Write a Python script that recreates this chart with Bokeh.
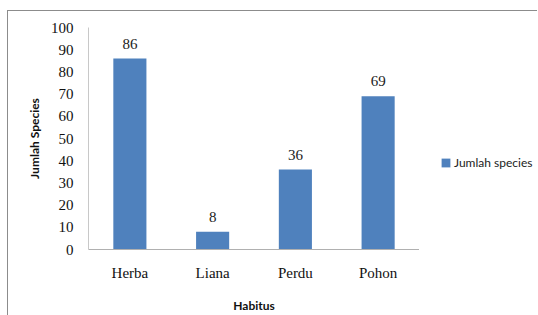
from bokeh.plotting import figure
from bokeh.layouts import row
from bokeh.models import ColumnDataSource, Legend, LegendItem, LabelSet
from bokeh.embed import file_html
from bokeh.resources import INLINE

categories = ["Herba", "Liana", "Perdu", "Pohon"]
counts = [86, 8, 36, 69]
y_ticks = [0, 10, 20, 30, 40, 50, 60, 70, 80, 90, 100]
series_name = "Jumlah species"
bar_color = "#4f81bd"

src = ColumnDataSource(dict(cat=categories, val=counts, lab=[str(v) for v in counts]))

p = figure(x_range=categories, y_range=(0, 100), width=411, height=304,
           output_backend="svg", toolbar_location=None,
           min_border_left=80, min_border_right=0, min_border_top=16, min_border_bottom=64)

p.vbar(x="cat", top="val", width=0.4, source=src, fill_color=bar_color, line_color=None)
labels = LabelSet(x="cat", y="val", text="lab", source=src, text_align="center",
                  text_baseline="bottom", y_offset=10, text_font="Liberation Serif",
                  text_font_size="15px", text_color="#222222")
p.add_layout(labels)

p.outline_line_color = None
p.xgrid.grid_line_color = None
p.ygrid.grid_line_color = None
p.x_range.range_padding = 0.0

p.yaxis.ticker = y_ticks
p.yaxis.axis_line_color = "#c8c8c8"
p.xaxis.axis_line_color = "#b0b0b0"
for ax in (p.xaxis, p.yaxis):
    ax.major_tick_line_color = None
    ax.minor_tick_line_color = None
    ax.major_label_text_font = "Liberation Serif"
    ax.major_label_text_font_size = "15px"
    ax.major_label_text_color = "#111111"
    ax.axis_label_text_font = "Lato"
    ax.axis_label_text_font_style = "bold"
    ax.axis_label_text_font_size = "12px"
    ax.axis_label_text_color = "#111111"
p.yaxis.major_label_standoff = 9
p.xaxis.major_label_standoff = 9
p.yaxis.axis_label = "Jumlah Species"
p.xaxis.axis_label = "Habitus"
p.yaxis.axis_label_standoff = 6
p.xaxis.axis_label_standoff = 14

# legend panel (the legend sits to the right of the plot area)
q = figure(x_range=(0, 1), y_range=(0, 1), width=118, height=304,
           output_backend="svg", toolbar_location=None,
           min_border_left=0, min_border_right=0, min_border_top=16, min_border_bottom=64)
q.axis.visible = False
q.grid.visible = False
q.outline_line_color = None
swatch = q.vbar(x=[5], top=[5], width=0.5, fill_color=bar_color, line_color=None)
legend = Legend(items=[LegendItem(label=series_name, renderers=[swatch])],
                location=(21, 79), padding=0, margin=0, spacing=0,
                glyph_width=11, glyph_height=11, label_standoff=3,
                label_text_font="Lato", label_text_font_size="12px",
                label_text_color="#222222", border_line_color=None,
                background_fill_alpha=0)
q.add_layout(legend)

layout = row(p, q, styles={"margin-left": "7px", "margin-top": "10px",
                           "border-top": "1px solid #8c8c8c",
                           "border-left": "1px solid #8c8c8c"})
open("out.html", "w").write(file_html(layout, INLINE))
